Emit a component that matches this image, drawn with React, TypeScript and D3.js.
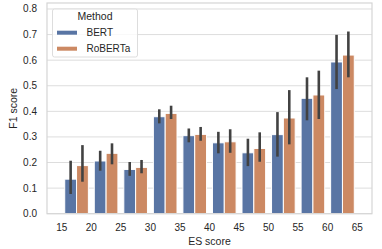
import React from "react";
import * as d3 from "d3";

const tickLabels = ["15", "20", "25", "30", "35", "40", "45", "50", "55", "60", "65"];
const categories = ["15-20", "20-25", "25-30", "30-35", "35-40", "40-45", "45-50", "50-55", "55-60", "60-65"];
const bertMean = [0.135, 0.206, 0.173, 0.379, 0.305, 0.277, 0.238, 0.309, 0.451, 0.593];
const bertLo = [0.077, 0.168, 0.148, 0.353, 0.279, 0.236, 0.186, 0.223, 0.365, 0.487];
const bertHi = [0.207, 0.246, 0.202, 0.408, 0.333, 0.32, 0.293, 0.397, 0.533, 0.699];
const robMean = [0.188, 0.236, 0.181, 0.392, 0.31, 0.281, 0.255, 0.374, 0.464, 0.62];
const robLo = [0.125, 0.193, 0.158, 0.37, 0.285, 0.238, 0.203, 0.271, 0.37, 0.533];
const robHi = [0.268, 0.275, 0.21, 0.422, 0.339, 0.33, 0.318, 0.483, 0.559, 0.712];
const yTicks = [0, 0.1, 0.2, 0.3, 0.4, 0.5, 0.6, 0.7, 0.8];
const seriesNames = ["BERT", "RoBERTa"];
const colors = ["#5975a4", "#cc8963"];

const W = 382, H = 249;
const left = 47, right = 372, top = 3, bottom = 213.7;
const font = "'Liberation Sans', Arial, sans-serif";

export default function App() {
  const x = d3.scaleLinear().domain([-1, 10]).range([left, right]);
  const y = d3.scaleLinear().domain([0, 0.8234]).range([bottom, top]);
  const series = [
    { mean: bertMean, lo: bertLo, hi: bertHi },
    { mean: robMean, lo: robLo, hi: robHi },
  ];
  const bw = 0.4;
  return (
    <svg width={W} height={H} style={{ position: "absolute", left: 0, top: 0, background: "#fff" }}>
      {yTicks.map((t) => (
        <g key={t}>
          <line x1={left} x2={right} y1={y(t)} y2={y(t)} stroke="#dddddd" strokeWidth={1} />
          <text x={37} y={y(t)} dy="0.35em" textAnchor="end" fontFamily={font} fontSize={10} fill="#262626">
            {t.toFixed(1)}
          </text>
        </g>
      ))}
      {series.map((s, si) =>
        categories.map((c, i) => {
          const x0 = x(i - 0.4 + si * bw);
          const x1 = x(i - 0.4 + (si + 1) * bw);
          return (
            <rect key={`${si}-${c}`} x={x0} y={y(s.mean[i])} width={x1 - x0} height={y(0) - y(s.mean[i])}
              fill={colors[si]} stroke="#ffffff" strokeWidth={1} />
          );
        })
      )}
      {series.map((s, si) =>
        categories.map((c, i) => {
          const cx = x(i - 0.4 + (si + 0.5) * bw);
          return (
            <line key={`e${si}-${c}`} x1={cx} x2={cx} y1={y(s.lo[i])} y2={y(s.hi[i])} stroke="#424242" strokeWidth={2.6} />
          );
        })
      )}
      <rect x={left} y={top} width={right - left} height={bottom - top} fill="none" stroke="#d5d5d5" strokeWidth={1.2} />
      {tickLabels.map((t, i) => (
        <text key={t} x={x(i - 0.5)} y={227} dy="0.35em" textAnchor="middle" fontFamily={font} fontSize={10} fill="#262626">
          {t}
        </text>
      ))}
      <text x={(left + right) / 2} y={241} dy="0.35em" textAnchor="middle" fontFamily={font} fontSize={10.5} fill="#262626">
        ES score
      </text>
      <text transform={`translate(13,${(top + bottom) / 2}) rotate(-90)`} dy="0.35em" textAnchor="middle" fontFamily={font} fontSize={10.5} fill="#262626">
        F1 score
      </text>
      <g>
        <rect x={52.5} y={9} width={85} height={48} rx={2} fill="#ffffff" fillOpacity={0.8} stroke="#dddddd" strokeWidth={1} />
        <text x={95} y={16.8} dy="0.35em" textAnchor="middle" fontFamily={font} fontSize={10.5} fill="#262626">Method</text>
        {seriesNames.map((n, i) => (
          <g key={n}>
            <rect x={57} y={30.7 + i * 16} width={20} height={4} fill={colors[i]} />
            <text x={86.5} y={32.5 + i * 16} dy="0.35em" fontFamily={font} fontSize={10} fill="#262626">{n}</text>
          </g>
        ))}
      </g>
    </svg>
  );
}
